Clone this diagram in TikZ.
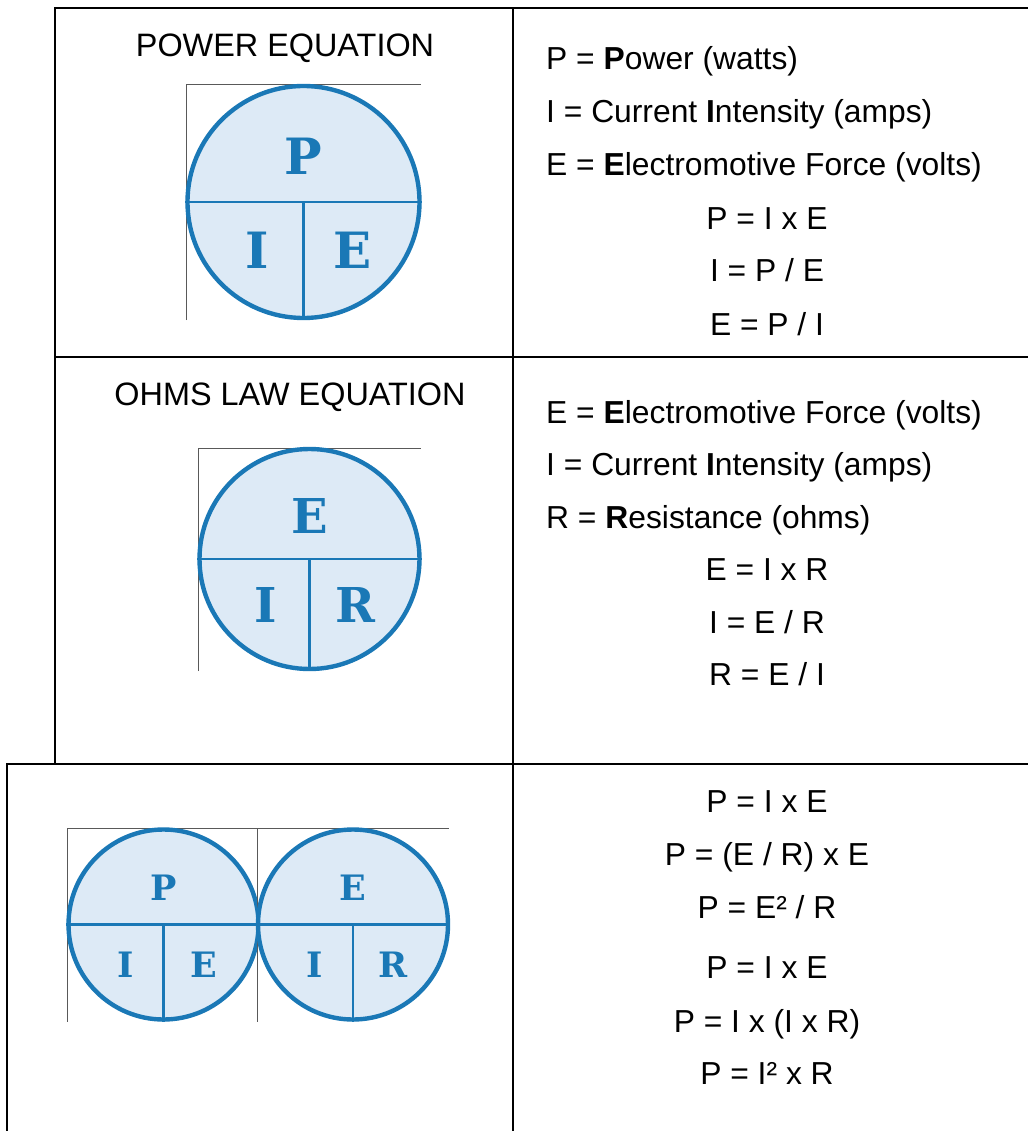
\documentclass[tikz,border=0pt]{standalone}
\usepackage{fontspec}
\setmainfont{Liberation Sans}
\newfontfamily\pieface{DejaVu Serif}
\usepackage{tikz}
\usetikzlibrary{positioning}

\definecolor{pieblue}{HTML}{1A78B6}
\definecolor{piefill}{HTML}{DDEAF6}

% one law circle: name, centre, radius, top letter, left letter, right letter, letter size
\newcommand{\lawcircle}[7]{%
    \begin{scope}[shift={#2}]
        \draw[frameline] (-#3-1,#3+2) -- (-#3-1,-#3-1) -- (#3+1,-#3-1);
        \node[pie, minimum size={2*#3pt}] (#1) at (0,0) {};
        \draw[pieline] (#1.west) -- (#1.east);
        \draw[pieline] (#1.center) -- (#1.south);
        \node[pieletter, font=\pieface\bfseries\fontsize{#7}{#7}\selectfont] (#1-top) at (0,-0.39*#3) {#4};
        \node[pieletter, font=\pieface\bfseries\fontsize{#7}{#7}\selectfont] (#1-left) at (-0.40*#3,0.42*#3) {#5};
        \node[pieletter, font=\pieface\bfseries\fontsize{#7}{#7}\selectfont] (#1-right) at (0.42*#3,0.42*#3) {#6};
    \end{scope}}

\begin{document}
\begin{tikzpicture}[
    % page in pixels, y going down
        x=1pt, y=-1pt,
        grid/.style={line width=2.6pt, black},
        frameline/.style={line width=1pt, black!65},
        pie/.style={circle, draw=pieblue, fill=piefill, line width=4.4pt, inner sep=0pt},
        pieline/.style={draw=pieblue, line width=2.2pt},
        pieletter/.style={text=pieblue, inner sep=0pt},
        eqtext/.style={font=\fontsize{31.8}{36}\selectfont, inner sep=0pt},
        headtext/.style={font=\fontsize{32.4}{36}\selectfont, inner sep=0pt, anchor=base}
    ]

        \useasboundingbox (0,0) rectangle (1027,1131);

        % table rules
        \draw[grid] (1030,8) -- (55,8) -- (55,764);
        \draw[grid] (55,357) -- (1030,357);
        \draw[grid] (1030,764) -- (7,764) -- (7,1135);
        \draw[grid] (513,8) -- (513,1135);

        % left column
        \node[headtext] (powerhead) at (285,57) {POWER EQUATION};
        \node[headtext] (ohmshead) at (290,405) {OHMS LAW EQUATION};

        \lawcircle{powerpie}{(303.5,202)}{116}{P}{I}{E}{50}
        \lawcircle{ohmspie}{(309.5,559)}{110}{E}{I}{R}{48}
        \lawcircle{powerpiesmall}{(163.5,924.5)}{95}{P}{I}{E}{35}
        \lawcircle{ohmspiesmall}{(353,924.5)}{95}{E}{I}{R}{35}

        % power equation terms
        \node[eqtext, anchor=base west] (pdef) at (546,70) {P = \textbf{P}ower (watts)};
        \node[eqtext, anchor=base west] (idef) at (546,123) {I = Current \textbf{I}ntensity (amps)};
        \node[eqtext, anchor=base west] (edef) at (546,176) {E = \textbf{E}lectromotive Force (volts)};
        \node[eqtext, anchor=base] (powerone) at (767,230) {P = I x E};
        \node[eqtext, anchor=base] (powertwo) at (767,282) {I = P / E};
        \node[eqtext, anchor=base] (powerthree) at (767,335) {E = P / I};

        % ohms law terms
        \node[eqtext, anchor=base west] (edeftwo) at (546,423) {E = \textbf{E}lectromotive Force (volts)};
        \node[eqtext, anchor=base west] (ideftwo) at (546,475) {I = Current \textbf{I}ntensity (amps)};
        \node[eqtext, anchor=base west] (rdef) at (546,528) {R = \textbf{R}esistance (ohms)};
        \node[eqtext, anchor=base] (ohmsone) at (767,580) {E = I x R};
        \node[eqtext, anchor=base] (ohmstwo) at (767,633) {I = E / R};
        \node[eqtext, anchor=base] (ohmsthree) at (767,685) {R = E / I};

        % combined
        \node[eqtext, anchor=base] (combone) at (767,812) {P = I x E};
        \node[eqtext, anchor=base] (combtwo) at (767,865) {P = (E / R) x E};
        \node[eqtext, anchor=base] (combthree) at (767,918) {P = E² / R};
        \node[eqtext, anchor=base] (combfour) at (767,978) {P = I x E};
        \node[eqtext, anchor=base] (combfive) at (767,1032) {P = I x (I x R)};
        \node[eqtext, anchor=base] (combsix) at (767,1084) {P = I² x R};
    \end{tikzpicture}
\end{document}
